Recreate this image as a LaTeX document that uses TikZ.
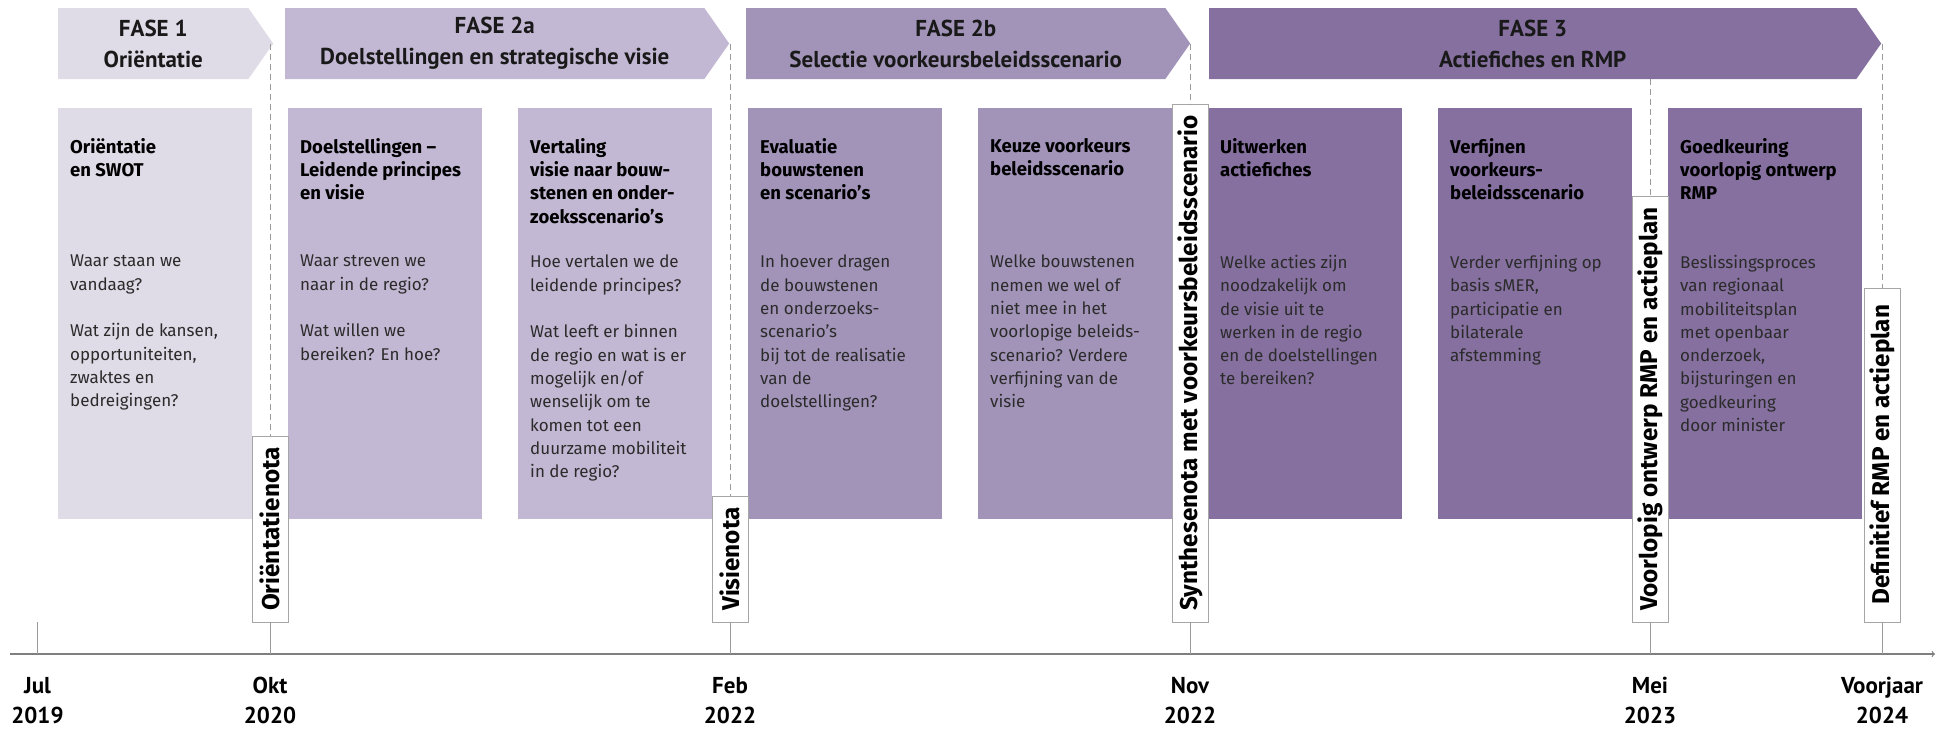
\documentclass[tikz,border=0pt]{standalone}
\usepackage{fontspec}
\setmainfont{Fira Sans}
\newfontfamily\koptekst{PT Sans}
\usetikzlibrary{shapes.symbols, arrows, positioning}

\definecolor{fase1}{HTML}{DFDBE7}
\definecolor{fase2a}{HTML}{C3B8D3}
\definecolor{fase2b}{HTML}{A294B9}
\definecolor{fase3}{HTML}{85709F}
\definecolor{lijn}{HTML}{9A9A9A}
\definecolor{as}{HTML}{7F7F7F}
\definecolor{rand}{HTML}{A6A6A6}
\definecolor{tekst}{HTML}{2B2B2B}

\begin{document}
\begin{tikzpicture}[x=1pt, y=-1pt, >=to]
	\tikzstyle{fase} = [signal, signal to=east, signal pointer angle=110, anchor=west, minimum height=71pt, inner sep=0pt, align=center, text=black!90, font=\koptekst\bfseries\fontsize{23}{31}\selectfont]
	\tikzstyle{blok} = [anchor=north west, minimum width=194pt, minimum height=411pt, inner sep=0pt]
	\tikzstyle{titel} = [anchor=north west, inner sep=0pt, align=left, text=black, font=\bfseries\fontsize{18.5}{23.3}\selectfont]
	\tikzstyle{vraag} = [anchor=north west, inner sep=0pt, align=left, text=tekst, font=\fontsize{17}{23.3}\selectfont]
	\tikzstyle{nota} = [draw=rand, fill=white, rotate=90, anchor=west, minimum height=36pt, inner xsep=11pt, inner ysep=0pt, font=\bfseries\fontsize{24.3}{24.3}\selectfont]
	\tikzstyle{datum} = [below=23pt, inner sep=0pt, align=center, font=\koptekst\bfseries\fontsize{23}{30}\selectfont]
	\tikzstyle{stippel} = [draw=lijn, dash pattern=on 6pt off 4pt, line width=0.8pt]
	\tikzstyle{streep} = [draw=lijn, line width=0.8pt]

	\useasboundingbox (0,0) rectangle (1944,729);

	% fasen
	\node[fase, fill=fase1, minimum width=215pt] (f1) at (58,43.5) {FASE 1\\Oriëntatie};
	\node[fase, fill=fase2a, minimum width=444pt] (f2a) at (285,43.5) {FASE 2a\\Doelstellingen en strategische visie};
	\node[fase, fill=fase2b, minimum width=444pt] (f2b) at (746,43.5) {FASE 2b\\Selectie voorkeursbeleidsscenario};
	\node[fase, fill=fase3, minimum width=672pt] (f3) at (1209,43.5) {FASE 3\\Actiefiches en RMP};

	% blokken
	\foreach \kleur [count=\i] in {fase1,fase2a,fase2a,fase2b,fase2b,fase3,fase3,fase3}
		\node[blok, fill=\kleur] (b\i) at (58+230*\i-230,108) {};

	\node[titel] (t1) at ([shift={(12,30)}]b1.north west) {Oriëntatie\\en SWOT};
	\node[vraag] (v1) at ([shift={(12,147)}]b1.north west) {Waar staan we\\vandaag?\\[23.3pt]Wat zijn de kansen,\\opportuniteiten,\\zwaktes en\\bedreigingen?};

	\node[titel] (t2) at ([shift={(12,30)}]b2.north west) {Doelstellingen –\\Leidende principes\\en visie};
	\node[vraag] (v2) at ([shift={(12,147)}]b2.north west) {Waar streven we\\naar in de regio?\\[23.3pt]Wat willen we\\bereiken? En hoe?};

	\node[titel] (t3) at ([shift={(12,30)}]b3.north west) {Vertaling\\visie naar bouw-\\stenen en onder-\\zoeksscenario’s};
	\node[vraag] (v3) at ([shift={(12,147)}]b3.north west) {Hoe vertalen we de\\leidende principes?\\[23.3pt]Wat leeft er binnen\\de regio en wat is er\\mogelijk en/of\\wenselijk om te\\komen tot een\\duurzame mobiliteit\\in de regio?};

	\node[titel] (t4) at ([shift={(12,30)}]b4.north west) {Evaluatie\\bouwstenen\\en scenario’s};
	\node[vraag] (v4) at ([shift={(12,147)}]b4.north west) {In hoever dragen\\de bouwstenen\\en onderzoeks-\\scenario’s\\bij tot de realisatie\\van de\\doelstellingen?};

	\node[titel] (t5) at ([shift={(12,30)}]b5.north west) {Keuze voorkeurs\\beleidsscenario};
	\node[vraag] (v5) at ([shift={(12,147)}]b5.north west) {Welke bouwstenen\\nemen we wel of\\niet mee in het\\voorlopige beleids-\\scenario? Verdere\\verfijning van de\\visie};

	\node[titel] (t6) at ([shift={(12,30)}]b6.north west) {Uitwerken\\actiefiches};
	\node[vraag] (v6) at ([shift={(12,147)}]b6.north west) {Welke acties zijn\\noodzakelijk om\\de visie uit te\\werken in de regio\\en de doelstellingen\\te bereiken?};

	\node[titel] (t7) at ([shift={(12,30)}]b7.north west) {Verfijnen\\voorkeurs-\\beleidsscenario};
	\node[vraag] (v7) at ([shift={(12,147)}]b7.north west) {Verder verfijning op\\basis sMER,\\participatie en\\bilaterale\\afstemming};

	\node[titel] (t8) at ([shift={(12,30)}]b8.north west) {Goedkeuring\\voorlopig ontwerp\\RMP};
	\node[vraag] (v8) at ([shift={(12,147)}]b8.north west) {Beslissingsproces\\van regionaal\\mobiliteitsplan\\met openbaar\\onderzoek,\\bijsturingen en\\goedkeuring\\door minister};

	% tijdlijn
	\coordinate (a0) at (10,654);
	\coordinate (a1) at (1935,654);
	\coordinate (j0) at (37.5,622);
	\draw[->, draw=as, line width=1.2pt] (a0) -- (a1);

	\node[nota] (m1) at (270,622) {Oriëntatienota};
	\node[nota] (m2) at (730,622) {Visienota};
	\node[nota] (m3) at (1190,622) {Synthesenota met voorkeursbeleidsscenario};
	\node[nota] (m4) at (1650,622) {Voorlopig ontwerp RMP en actieplan};
	\node[nota, minimum width=334pt] (m5) at (1882,622) {Definitief RMP en actieplan};

	\draw[stippel] (m1.east |- f1.east) -- (m1.east);
	\draw[stippel] (m2.east |- f2a.east) -- (m2.east);
	\draw[stippel] (m3.east |- f2b.east) -- (m3.east);
	\draw[stippel] (m4.east |- f3.south) -- (m4.east);
	\draw[stippel] (m5.east |- f3.east) -- (m5.east);

	\draw[streep] (j0) -- (j0 |- a0);
	\foreach \i in {1,...,5}
		\draw[streep] (m\i.west) -- (m\i.west |- a0);

	\node[datum] (d0) at (j0 |- a0) {Jul\\2019};
	\node[datum] (d1) at (m1.west |- a0) {Okt\\2020};
	\node[datum] (d2) at (m2.west |- a0) {Feb\\2022};
	\node[datum] (d3) at (m3.west |- a0) {Nov\\2022};
	\node[datum] (d4) at (m4.west |- a0) {Mei\\2023};
	\node[datum] (d5) at (m5.west |- a0) {Voorjaar\\2024};
\end{tikzpicture}
\end{document}
